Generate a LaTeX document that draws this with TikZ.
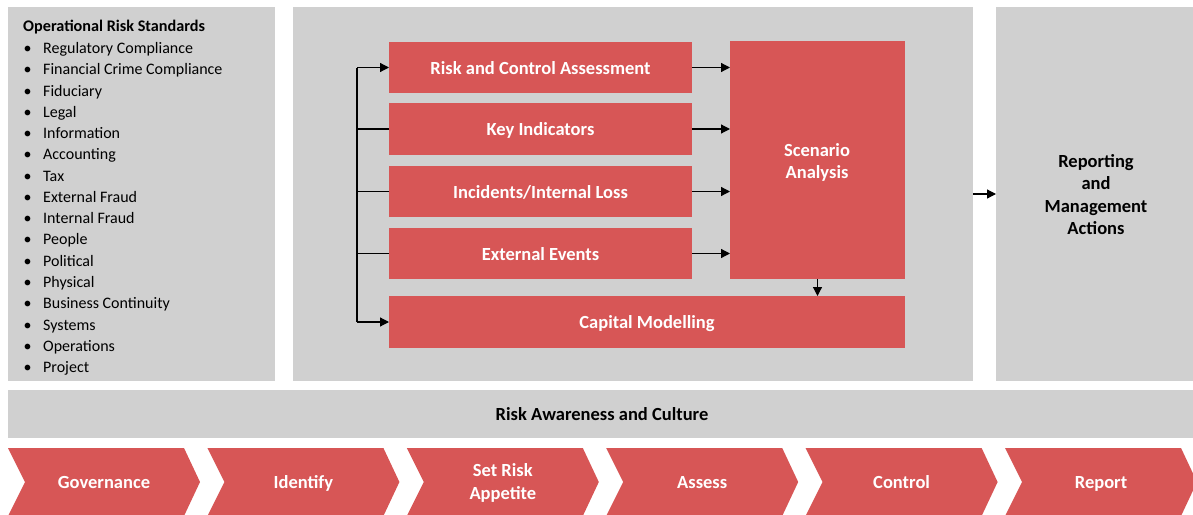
\documentclass[tikz,border=0pt]{standalone}
\usepackage{fontspec}
\setmainfont{Carlito}
\usetikzlibrary{arrows.meta}
\definecolor{panelgray}{RGB}{208,208,208}
\definecolor{riskred}{RGB}{215,86,86}
\tikzset{
  panel/.style={fill=panelgray, draw=none, inner sep=0, outer sep=0, anchor=north west},
  redbox/.style={fill=riskred, draw=none, inner sep=0, outer sep=0, anchor=north west,
     text=white, font=\fontsize{18.5}{22}\selectfont\bfseries, align=center,
     text height=15pt, text depth=2pt},
  listitem/.style={anchor=base west, inner sep=0, font=\fontsize{16}{19}\selectfont},
  conn/.style={line width=1.2pt, draw=black},
  arr/.style={conn, -{Triangle[length=9pt, width=9pt]}},
  chevlabel/.style={text=white, font=\fontsize{18.5}{22.5}\selectfont\bfseries, align=center, inner sep=0},
  chevsingle/.style={chevlabel, text height=15pt, text depth=2pt}
}
\begin{document}
\begin{tikzpicture}[x=1pt, y=-1pt]
\useasboundingbox (0,0) rectangle (1193,514);
\fill[white] (0,0) rectangle (1193,514);
% panels
\node[panel, minimum width=267, minimum height=374] (left) at (8,7) {};
\node[panel, minimum width=680, minimum height=374] (mid) at (293,7) {};
\node[panel, minimum width=197, minimum height=374] (rep) at (996,7) {};
\node[panel, minimum width=1185, minimum height=48] (band) at (8,390) {};
\node[font=\fontsize{18.5}{22}\selectfont\bfseries, inner sep=0, text height=15pt, text depth=2pt] (bandtext) at (602,414) {Risk Awareness and Culture};
\node[font=\fontsize{18.5}{22.5}\selectfont\bfseries, align=center, inner sep=0] (reptext) at (1096,194.5) {Reporting\\and\\Management\\Actions};
% list
\node[listitem, font=\fontsize{16.2}{19}\selectfont\bfseries] (title) at (23,31) {Operational Risk Standards};
\foreach \t [count=\i] in {Regulatory Compliance, Financial Crime Compliance, Fiduciary, Legal, Information, Accounting, Tax, External Fraud, Internal Fraud, People, Political, Physical, Business Continuity, Systems, Operations, Project}{
  \node[listitem] (item\i) at (43,{53.5+(\i-1)*21.27}) {\t};
  \node[listitem] (bul\i) at (23.5,{53.5+(\i-1)*21.27}) {\textbullet};
}
% red boxes
\node[redbox, minimum width=303, minimum height=51] (rca) at (389,42) {Risk and Control Assessment};
\node[redbox, minimum width=303, minimum height=52] (ki) at (389,103) {Key Indicators};
\node[redbox, minimum width=303, minimum height=51] (inc) at (389,166) {Incidents/Internal Loss};
\node[redbox, minimum width=303, minimum height=51] (ext) at (389,228) {External Events};
\node[redbox, minimum width=516, minimum height=52] (cap) at (389,296) {Capital Modelling};
\node[redbox, minimum width=175, minimum height=238] (sa) at (730,41) {};
\node[text=white, font=\fontsize{18.5}{22}\selectfont\bfseries, align=center, inner sep=0] (satext) at (817,162) {Scenario\\Analysis};
% bus connectors
\coordinate (bt) at (357,67.5);
\coordinate (bb) at (357,322);
\draw[conn] (bt) -- (bb);
\draw[arr] (bt) -- (rca.west);
\draw[arr] (bb) -- (cap.west);
\draw[conn] (ki.west) -- (ki.west -| bt);
\draw[conn] (inc.west) -- (inc.west -| bt);
\draw[conn] (ext.west) -- (ext.west -| bt);
% arrows into scenario analysis
\draw[arr] (rca.east) -- (rca.east -| sa.west);
\draw[arr] (ki.east) -- (ki.east -| sa.west);
\draw[arr] (inc.east) -- (inc.east -| sa.west);
\draw[arr] (ext.east) -- (ext.east -| sa.west);
\draw[arr] (sa.south) -- (sa.south |- cap.north);
% to reporting
\draw[arr] (mid.east) -- (rep.west);
% chevrons
\foreach \lab [count=\i from 0] in {Governance, Identify, Set Risk, Assess, Control, Report}{
  \pgfmathsetmacro{\xo}{8+\i*199.4}
  \fill[riskred] (\xo,448) -- ++(176,0) -- ++(16,34) -- ++(-16,34) -- ++(-176,0) -- ++(17,-34) -- cycle;
}
\node[chevsingle] (chev0) at (104,482) {Governance};
\node[chevsingle] (chev1) at (303.4,482) {Identify};
\node[chevlabel] (chev2) at (502.8,483) {Set Risk\\Appetite};
\node[chevsingle] (chev3) at (702.2,482) {Assess};
\node[chevsingle] (chev4) at (901.6,482) {Control};
\node[chevsingle] (chev5) at (1101,482) {Report};
\end{tikzpicture}
\end{document}
